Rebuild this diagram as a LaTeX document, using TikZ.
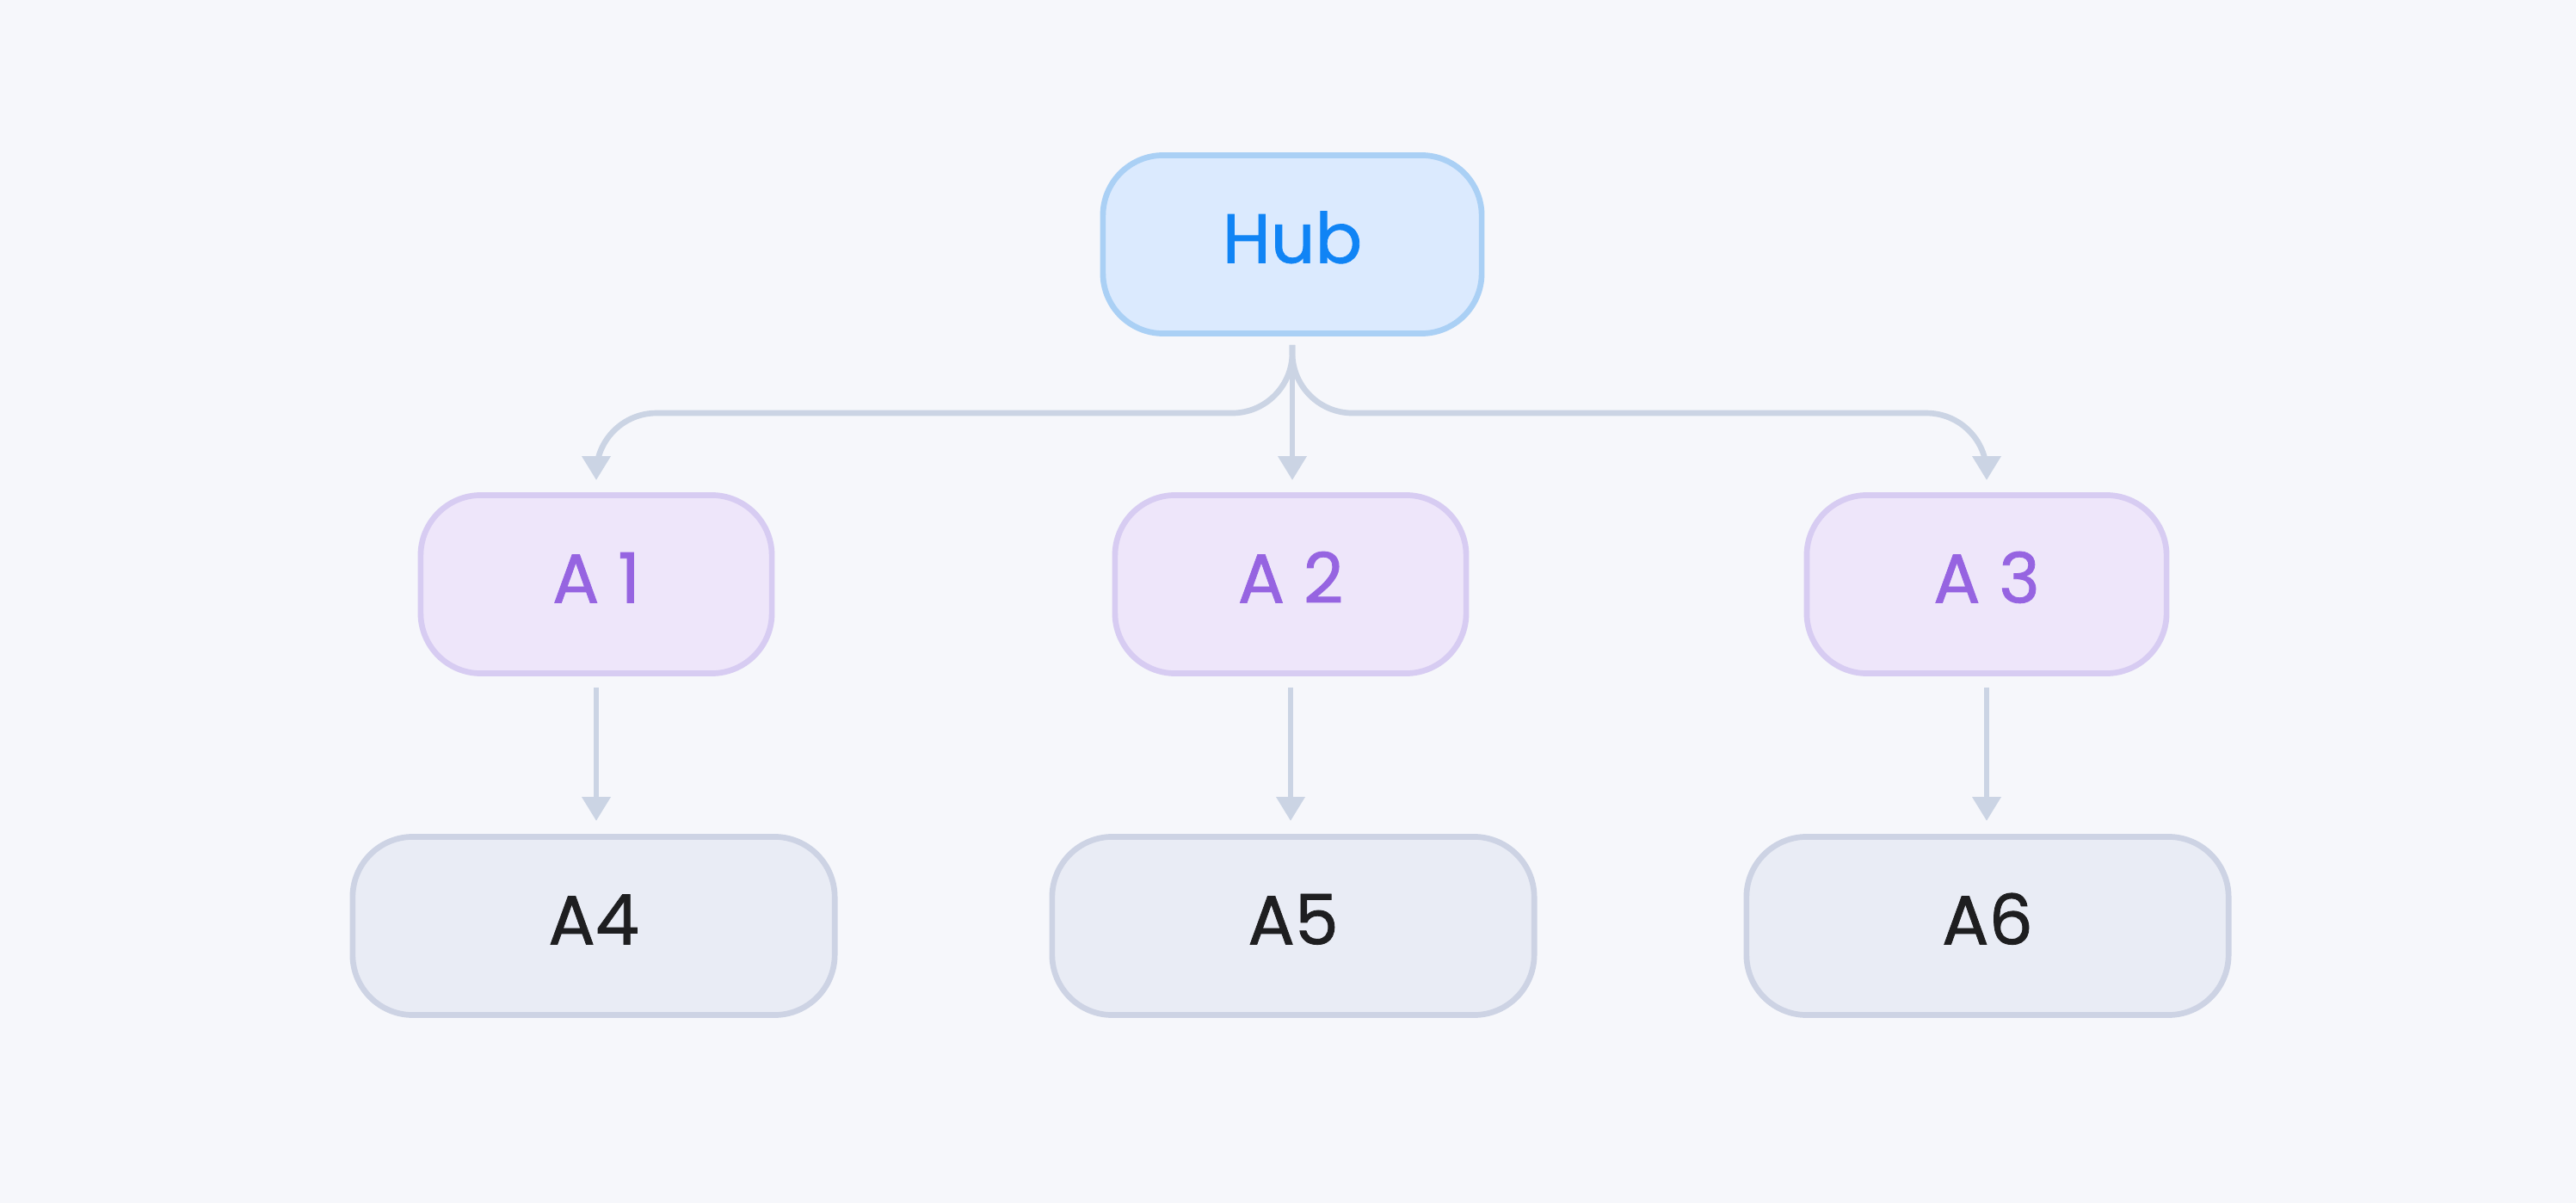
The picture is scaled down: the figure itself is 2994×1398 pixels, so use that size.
\documentclass[tikz,border=0pt]{standalone}
\usepackage{fontspec}
\setmainfont{Poppins}[FakeBold=1]
\usetikzlibrary{arrows.meta}
\definecolor{bg}{RGB}{246,247,251}
\definecolor{hubfill}{RGB}{219,234,254}
\definecolor{hubline}{RGB}{170,208,245}
\definecolor{hubtext}{RGB}{16,132,245}
\definecolor{midfill}{RGB}{238,230,250}
\definecolor{midline}{RGB}{215,204,242}
\definecolor{midtext}{RGB}{150,100,225}
\definecolor{leaffill}{RGB}{233,236,245}
\definecolor{leafline}{RGB}{205,211,228}
\definecolor{leaftext}{RGB}{30,30,32}
\definecolor{connline}{RGB}{203,212,228}
\begin{document}
\begin{tikzpicture}[x=0.01cm,y=-0.01cm,
  box/.style={draw,rounded corners=0.7cm,line width=1.9pt,minimum height=2.07cm,
    text height=0.55cm,text depth=0.12cm,font=\fontsize{23}{27}\selectfont},
  hubbox/.style={box,fill=hubfill,draw=hubline,text=hubtext,minimum width=4.4cm},
  midbox/.style={box,fill=midfill,draw=midline,text=midtext,minimum width=4.08cm},
  leafbox/.style={box,fill=leaffill,draw=leafline,text=leaftext,minimum width=5.6cm},
  conn/.style={draw=connline,line width=1.9pt,rounded corners=0.7cm,
    -{Triangle[width=0.32cm,length=0.28cm]}}]
\fill[bg] (0,0) rectangle (2994,1398);
\useasboundingbox (0,0) rectangle (2994,1398);

\node[hubbox] (hub) at (1502,284) {Hub};

\node[midbox] (a1) at (693,679) {A 1};
\node[midbox] (a2) at (1500,679) {A 2};
\node[midbox,minimum width=4.18cm] (a3) at (2309,679) {A 3};

\node[leafbox] (a4) at (690,1076) {A4};
\node[leafbox] (a5) at (1503,1076) {A5};
\node[leafbox] (a6) at (2310,1076) {A6};

\draw[conn] ([yshift=-0.1cm]hub.south) |- ([yshift=0.92cm]a1.north) -- ([yshift=0.14cm]a1.north);
\draw[conn] ([yshift=-0.1cm]hub.south) -- ([yshift=0.14cm]hub.south |- a2.north);
\draw[conn] ([yshift=-0.1cm]hub.south) |- ([yshift=0.92cm]a3.north) -- ([yshift=0.14cm]a3.north);

\draw[conn] ([yshift=-0.13cm]a1.south) -- ([yshift=0.15cm]a1.south |- a4.north);
\draw[conn] ([yshift=-0.13cm]a2.south) -- ([yshift=0.15cm]a2.south |- a5.north);
\draw[conn] ([yshift=-0.13cm]a3.south) -- ([yshift=0.15cm]a3.south |- a6.north);
\end{tikzpicture}
\end{document}
